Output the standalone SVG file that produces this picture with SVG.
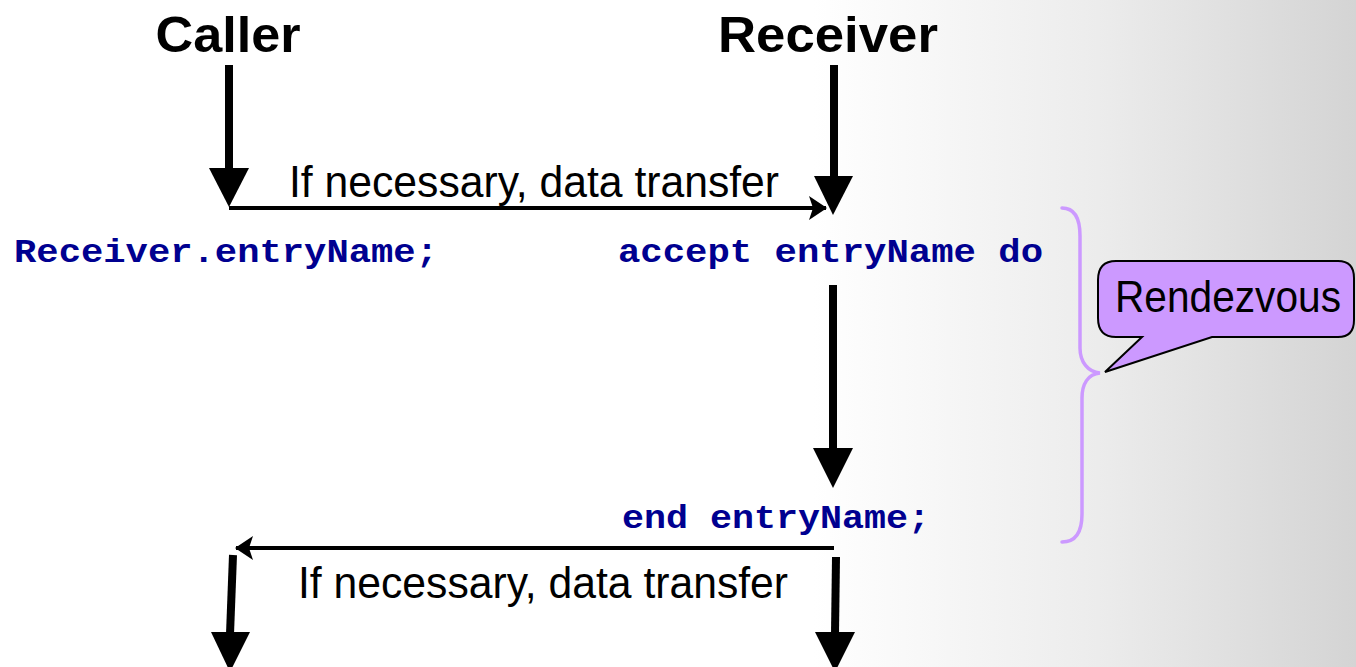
<svg xmlns="http://www.w3.org/2000/svg" width="1356" height="667" viewBox="0 0 1356 667">
  <defs>
    <linearGradient id="bg" x1="0" y1="0" x2="1356" y2="0" gradientUnits="userSpaceOnUse">
      <stop offset="0" stop-color="#ffffff"/>
      <stop offset="0.6" stop-color="#ffffff"/>
      <stop offset="0.81" stop-color="#ececec"/>
      <stop offset="1" stop-color="#d4d4d4"/>
    </linearGradient>
    <marker id="head-small" viewBox="0 0 18 24" refX="17" refY="12" markerWidth="18" markerHeight="24" markerUnits="userSpaceOnUse" orient="auto">
      <path d="M0,0 L18,12 L0,24 L4,12 Z" fill="#000"/>
    </marker>
  </defs>
  <style>
    .title { font-family: "Liberation Sans", Arial, sans-serif; font-weight: bold; font-size: 50px; fill: #000; }
    .label { font-family: "Liberation Sans", Arial, sans-serif; font-size: 44px; fill: #000; }
    .code { font-family: "Liberation Mono", "Courier New", monospace; font-weight: bold; font-size: 33px; fill: #000090; }
    .shaft { stroke: #000; stroke-width: 8; fill: none; }
    .thin { stroke: #000; stroke-width: 4; fill: none; }
    .head { fill: #000; }
    .brace { stroke: #cc99ff; stroke-width: 3.5; fill: none; stroke-linecap: round; }
    .bubble { fill: #cc99ff; stroke: #000; stroke-width: 2; }
  </style>

  <rect x="0" y="0" width="1356" height="667" fill="url(#bg)"/>

  <g id="caller">
    <text class="title" x="228" y="52" text-anchor="middle" textLength="145" lengthAdjust="spacingAndGlyphs">Caller</text>
    <text class="code" x="14" y="262" textLength="424" lengthAdjust="spacingAndGlyphs">Receiver.entryName;</text>
  </g>

  <g id="receiver">
    <text class="title" x="828" y="52" text-anchor="middle" textLength="220" lengthAdjust="spacingAndGlyphs">Receiver</text>
    <text class="code" x="618" y="262" textLength="425" lengthAdjust="spacingAndGlyphs">accept entryName do</text>
    <text class="code" x="622" y="528" textLength="308" lengthAdjust="spacingAndGlyphs">end entryName;</text>
  </g>

  <g id="rendezvous">
    <path class="brace" d="M1062,208 C1074,208 1080,218 1080,236 L1080,348 C1080,362 1088,372 1100,373 C1088,374 1082,384 1082,398 L1082,514 C1082,532 1076,542 1062,542"/>
    <path class="bubble" d="M1116,261 L1338,261 Q1354,261 1354,278 L1354,320 Q1354,337 1338,337 L1212,337 L1105,372 L1142,337 L1116,337 Q1098,337 1098,318 L1098,280 Q1098,261 1116,261 Z"/>
    <text class="label" x="1115" y="312" font-size="41" textLength="226" lengthAdjust="spacingAndGlyphs">Rendezvous</text>
  </g>

  <g id="connectors">
    <!-- caller waits for the call -->
    <line class="shaft" x1="229" y1="65" x2="229" y2="170"/>
    <polygon class="head" points="209,168 249,168 229,207"/>
    <!-- receiver waits at accept -->
    <line class="shaft" x1="834" y1="65" x2="834" y2="178"/>
    <polygon class="head" points="814,176 853,176 833,215"/>
    <!-- parameters in -->
    <line class="thin" x1="229" y1="208" x2="826" y2="208" marker-end="url(#head-small)"/>
    <text class="label" x="289" y="197" textLength="490" lengthAdjust="spacingAndGlyphs">If necessary, data transfer</text>
    <!-- accept body -->
    <line class="shaft" x1="833" y1="285" x2="833" y2="450"/>
    <polygon class="head" points="813,448 853,448 833,488"/>
    <!-- parameters out -->
    <line class="thin" x1="834" y1="548" x2="236" y2="548" marker-end="url(#head-small)"/>
    <text class="label" x="298" y="598" textLength="490" lengthAdjust="spacingAndGlyphs">If necessary, data transfer</text>
    <!-- both continue -->
    <line class="shaft" x1="233" y1="555" x2="230" y2="634"/>
    <polygon class="head" points="211,632 250,632 230,672"/>
    <line class="shaft" x1="836" y1="557" x2="835" y2="634"/>
    <polygon class="head" points="815,632 855,632 835,672"/>
  </g>
</svg>
